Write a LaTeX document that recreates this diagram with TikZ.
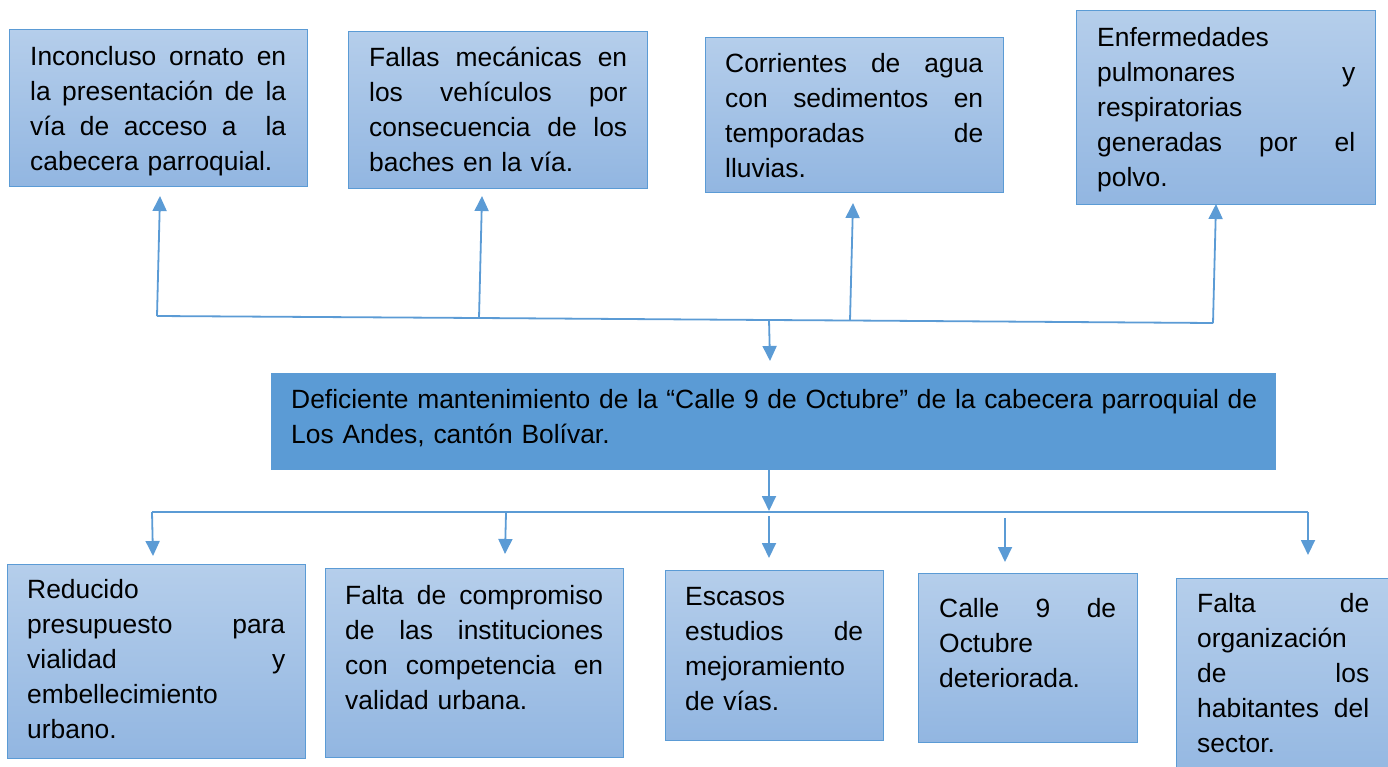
\documentclass[tikz,border=0pt]{standalone}
\usepackage{fontspec}
\setmainfont{Liberation Sans}
\usetikzlibrary{arrows.meta}
\definecolor{azul}{RGB}{91,155,213}
\definecolor{azulclaro}{RGB}{181,206,235}
\definecolor{azulmedio}{RGB}{146,182,225}
\newcommand{\jl}[1]{\leavevmode\hbox to \hsize{\spaceskip=\fontdimen2\font plus 1fil\relax #1}\\}

\begin{document}
\begin{tikzpicture}[x=1pt, y=-1pt, >={Triangle[width=14pt,length=15pt]},
    bnode/.style={draw=azul, line width=1pt, top color=azulclaro, bottom color=azulmedio, inner sep=0pt},
    mnode/.style={fill=azul, inner sep=0pt},
    tnode/.style={anchor=base west, inner sep=0pt, align=left, font=\fontsize{26.4}{35}\selectfont},
    conn/.style={draw=azul, line width=1.8pt}]
    \clip (0,0) rectangle (1388,766);

    % efectos
    \node[bnode, minimum width=298, minimum height=157] (t1) at (158, 107.5) {};
    \node[bnode, minimum width=299, minimum height=157] (t2) at (497.5, 109.5) {};
    \node[bnode, minimum width=298, minimum height=155] (t3) at (854, 114.5) {};
    \node[bnode, minimum width=299, minimum height=194] (t4) at (1225.5, 107) {};
    \node[tnode, text width=256] (t1t) at (30, 65) {\jl{Inconcluso ornato en}\jl{la presentación de la}\jl{vía de acceso a\ \ la}cabecera parroquial.};
    \node[tnode, text width=258] (t2t) at (369, 66) {\jl{Fallas mecánicas en}\jl{los vehículos por}\jl{consecuencia de los}baches en la vía.};
    \node[tnode, text width=258] (t3t) at (725, 72) {\jl{Corrientes de agua}\jl{con sedimentos en}\jl{temporadas de}lluvias.};
    \node[tnode, text width=258] (t4t) at (1097, 46) {Enfermedades\\\jl{pulmonares y}respiratorias\\\jl{generadas por el}polvo.};

    % problema
    \node[mnode, minimum width=1005, minimum height=97] (mid) at (773.5, 421.5) {};
    \node[tnode, text width=966] (midt) at (291, 408) {\jl{Deficiente mantenimiento de la “Calle 9 de Octubre” de la cabecera parroquial de}Los Andes, cantón Bolívar.};

    % causas
    \node[bnode, minimum width=298, minimum height=194] (b1) at (156, 661) {};
    \node[bnode, minimum width=298, minimum height=189] (b2) at (474, 662.5) {};
    \node[bnode, minimum width=218, minimum height=170] (b3) at (774, 655) {};
    \node[bnode, minimum width=219, minimum height=169] (b4) at (1027.5, 657.5) {};
    \node[bnode, minimum width=214, minimum height=212] (b5) at (1283, 684) {};
    \node[tnode, text width=258] (b1t) at (27, 598) {Reducido\\\jl{presupuesto para}\jl{vialidad y}embellecimiento\\urbano.};
    \node[tnode, text width=258] (b2t) at (345, 604) {\jl{Falta de compromiso}\jl{de las instituciones}\jl{con competencia en}validad urbana.};
    \node[tnode, text width=178] (b3t) at (685, 605) {Escasos\\\jl{estudios de}mejoramiento\\de vías.};
    \node[tnode, text width=177] (b4t) at (939, 617) {\jl{Calle 9 de}Octubre\\deteriorada.};
    \node[tnode, text width=172] (b5t) at (1197, 612) {\jl{Falta de}organización\\\jl{de los}\jl{habitantes del}sector.};

    % conectores arriba
    \coordinate (j1) at (157, 316);
    \coordinate (j2) at (479, 318);
    \coordinate (jc) at (769, 320);
    \coordinate (j3) at (850, 320.5);
    \coordinate (j4) at (1213, 323);
    \coordinate (a1) at (160, 196);
    \coordinate (a2) at (482, 196);
    \coordinate (a3) at (853, 203);
    \coordinate (a4) at (1216, 204);
    \coordinate (ac) at (770, 361);
    \draw[conn] (j1) -- (j2) -- (jc) -- (j3) -- (j4);
    \draw[conn,->] (j1) -- (a1);
    \draw[conn,->] (j2) -- (a2);
    \draw[conn,->] (j3) -- (a3);
    \draw[conn,->] (j4) -- (a4);
    \draw[conn,->] (jc) -- (ac);

    % conectores abajo
    \coordinate (bc) at (769, 511);
    \coordinate (k1) at (152, 512);
    \coordinate (k2) at (506, 513);
    \coordinate (k3) at (769, 516);
    \coordinate (k4) at (1005, 518);
    \coordinate (k5) at (1308, 512);
    \coordinate (c1) at (153, 556);
    \coordinate (c2) at (505, 554);
    \coordinate (c3) at (769, 558);
    \coordinate (c4) at (1005, 562);
    \coordinate (c5) at (1308, 555);
    \draw[conn,->] (mid.south -| bc) -- (bc);
    \draw[conn] (k1) -- (k5);
    \draw[conn,->] (k1) -- (c1);
    \draw[conn,->] (k2) -- (c2);
    \draw[conn,->] (k3) -- (c3);
    \draw[conn,->] (k4) -- (c4);
    \draw[conn,->] (k5) -- (c5);
\end{tikzpicture}
\end{document}
